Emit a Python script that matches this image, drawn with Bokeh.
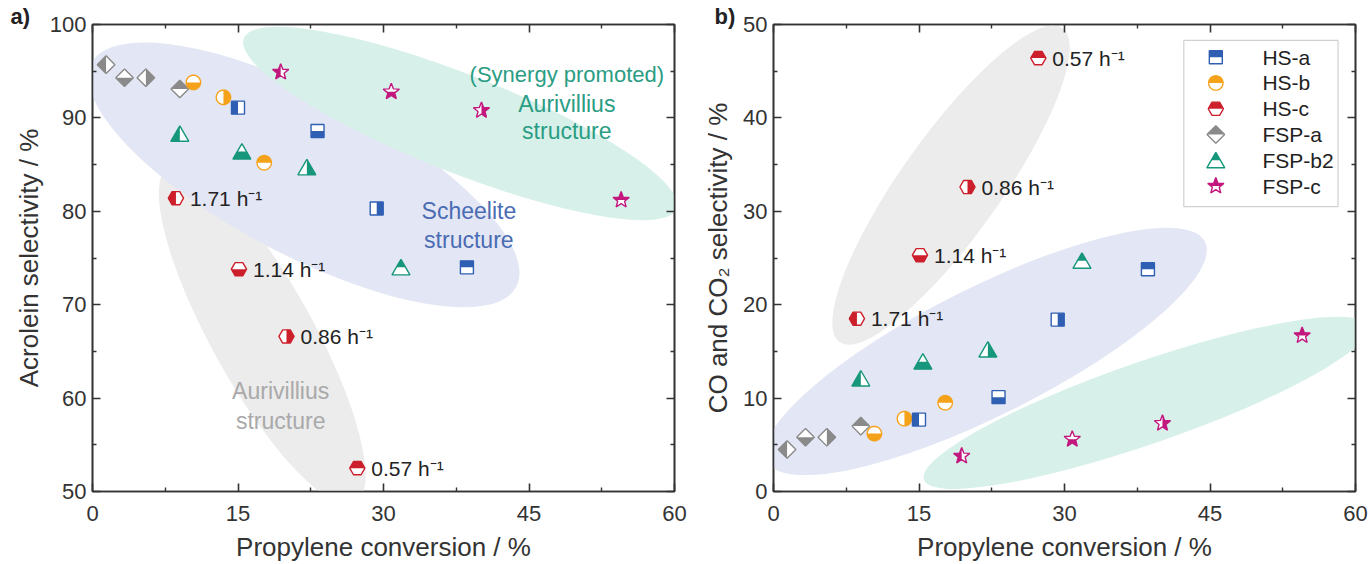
import math
from bokeh.plotting import figure
from bokeh.layouts import row
from bokeh.models import (Range1d, LinearAxis, FixedTicker, Label, BoxAnnotation,
                          CustomJSTickFormatter)
from bokeh.embed import file_html
from bokeh.resources import INLINE
from bokeh.core.properties import value

# ---------------- data ----------------
x_ticks = [0, 15, 30, 45, 60]
x_minor = [7.5, 22.5, 37.5, 52.5]
ya_ticks = [50, 60, 70, 80, 90, 100]
ya_minor = [55, 65, 75, 85, 95]
yb_ticks = [0, 10, 20, 30, 40, 50]
yb_minor = [5, 15, 25, 35, 45]

series_names = ["HS-a", "HS-b", "HS-c", "FSP-a", "FSP-b2", "FSP-c"]

hs_a_x = [15.0, 23.2, 29.3, 38.6]
hs_a_acro = [91.1, 88.6, 80.3, 74.0]
hs_a_cox = [7.7, 10.1, 18.4, 23.8]

hs_b_x = [10.4, 13.5, 17.7]
hs_b_acro = [93.8, 92.2, 85.2]
hs_b_cox = [6.2, 7.8, 9.5]

hs_c_x = [8.6, 15.1, 20.0, 27.3]
hs_c_acro = [81.4, 73.8, 66.6, 52.5]
hs_c_cox = [18.5, 25.3, 32.6, 46.4]
hs_c_rates = ["1.71 h\u207b\u00b9", "1.14 h\u207b\u00b9", "0.86 h\u207b\u00b9", "0.57 h\u207b\u00b9"]

fsp_a_x = [1.4, 3.3, 5.5, 9.0]
fsp_a_acro = [95.7, 94.3, 94.3, 93.1]
fsp_a_cox = [4.5, 5.8, 5.8, 7.0]

fsp_b2_x = [9.0, 15.4, 22.1, 31.8]
fsp_b2_acro = [88.3, 86.4, 84.7, 74.0]
fsp_b2_cox = [12.1, 13.9, 15.2, 24.7]

fsp_c_x = [19.4, 30.8, 40.1, 54.5]
fsp_c_acro = [94.9, 92.8, 90.8, 81.2]
fsp_c_cox = [3.8, 5.6, 7.3, 16.7]

# ---------------- style ----------------
FW, FH = 582, 467
FONT = "Liberation Sans"
AX = "#333333"

colors = {"HS-a": "#2f5fb3", "HS-b": "#f5a21b", "HS-c": "#cc1f2b",
          "FSP-a": "#8a8a8a", "FSP-b2": "#16967a", "FSP-c": "#c2187e"}
kinds = {"HS-a": "square", "HS-b": "circle", "HS-c": "hex",
         "FSP-a": "diamond", "FSP-b2": "triangle", "FSP-c": "star"}
halves = {"HS-a": ["left", "bottom", "right", "top"],
          "HS-b": ["bottom", "right", "top"],
          "HS-c": ["left", "bottom", "right", "top"],
          "FSP-a": ["left", "bottom", "right", "top"],
          "FSP-b2": ["left", "bottom", "right", "top"],
          "FSP-c": ["left", "bottom", "right", "top"]}

data_a = {"HS-a": (hs_a_x, hs_a_acro), "HS-b": (hs_b_x, hs_b_acro), "HS-c": (hs_c_x, hs_c_acro),
          "FSP-a": (fsp_a_x, fsp_a_acro), "FSP-b2": (fsp_b2_x, fsp_b2_acro), "FSP-c": (fsp_c_x, fsp_c_acro)}
data_b = {"HS-a": (hs_a_x, hs_a_cox), "HS-b": (hs_b_x, hs_b_cox), "HS-c": (hs_c_x, hs_c_cox),
          "FSP-a": (fsp_a_x, fsp_a_cox), "FSP-b2": (fsp_b2_x, fsp_b2_cox), "FSP-c": (fsp_c_x, fsp_c_cox)}
draw_order = ["FSP-a", "FSP-b2", "FSP-c", "HS-b", "HS-a", "HS-c"]


def base_shape(kind):
    if kind == "square":
        h = 6.5
        return [(-h, -h), (h, -h), (h, h), (-h, h)]
    if kind == "circle":
        r = 7.2
        return [(r * math.cos(2 * math.pi * k / 40), r * math.sin(2 * math.pi * k / 40)) for k in range(40)]
    if kind == "hex":
        r = 7.6
        return [(r * math.cos(math.pi * k / 3), r * math.sin(math.pi * k / 3)) for k in range(6)]
    if kind == "diamond":
        d = 8.8
        return [(0, d), (d, 0), (0, -d), (-d, 0)]
    if kind == "triangle":
        return [(0, 8.0), (-9.0, -7.5), (9.0, -7.5)]
    if kind == "star":
        pts = []
        for k in range(10):
            r = 8.5 if k % 2 == 0 else 3.6
            a = math.pi / 2 + math.pi * k / 5
            pts.append((r * math.cos(a), r * math.sin(a)))
        return pts


def _intersect(p, q, axis):
    t = p[axis] / (p[axis] - q[axis])
    return (p[0] + t * (q[0] - p[0]), p[1] + t * (q[1] - p[1]))


def clip_half(poly, side):
    axis = 0 if side in ("left", "right") else 1
    sign = -1 if side in ("left", "bottom") else 1

    def inside(p):
        return sign * p[axis] >= -1e-9
    out = []
    n = len(poly)
    for i in range(n):
        cur, prev = poly[i], poly[i - 1]
        ci, pi_ = inside(cur), inside(prev)
        if ci:
            if not pi_:
                out.append(_intersect(prev, cur, axis))
            out.append(cur)
        elif pi_:
            out.append(_intersect(prev, cur, axis))
    return out


def marker_layers(xs, ys, kind, sides, sx, sy):
    base = base_shape(kind)
    fx, fy, hx, hy = [], [], [], []
    for x, y, side in zip(xs, ys, sides):
        fx.append([x + dx * sx for dx, dy in base])
        fy.append([y + dy * sy for dx, dy in base])
        h = clip_half(base, side)
        hx.append([x + dx * sx for dx, dy in h])
        hy.append([y + dy * sy for dx, dy in h])
    return fx, fy, hx, hy


def draw_markers(p, xs, ys, name, sides, sx, sy):
    fx, fy, hx, hy = marker_layers(xs, ys, kinds[name], sides, sx, sy)
    c = colors[name]
    p.patches(xs=fx, ys=fy, fill_color="white", line_color=None)
    p.patches(xs=hx, ys=hy, fill_color=c, line_color=None)
    p.patches(xs=fx, ys=fy, fill_alpha=0, line_color=c, line_width=1.4)


def style_axis(ax, ticks, minor, labels):
    ax.ticker = FixedTicker(ticks=ticks, minor_ticks=minor)
    ax.axis_line_color = AX
    ax.axis_line_width = 1.6
    ax.major_tick_line_color = AX
    ax.major_tick_line_width = 1.6
    ax.minor_tick_line_color = AX
    ax.minor_tick_line_width = 1.4
    ax.major_tick_in = 8
    ax.major_tick_out = 0
    ax.minor_tick_in = 4
    ax.minor_tick_out = 0
    if labels:
        ax.major_label_text_font = FONT
        ax.major_label_text_font_size = "22px"
        ax.major_label_text_color = AX
        ax.major_label_standoff = 6
        ax.axis_label_text_font = FONT
        ax.axis_label_text_font_size = "26px"
        ax.axis_label_text_font_style = "normal"
        ax.axis_label_text_color = AX
        ax.axis_label_standoff = 8
    else:
        ax.formatter = CustomJSTickFormatter(code="return ''")
        ax.major_label_text_font_size = "1px"
        ax.major_label_standoff = 0


def make_fig(y0, y1, yt, ym, ylabel, bl, br, ystand, tag, tag_offset):
    p = figure(frame_width=FW, frame_height=FH,
               x_range=Range1d(0, 60), y_range=Range1d(y0, y1),
               output_backend="svg", toolbar_location=None,
               min_border_left=bl, min_border_right=br,
               min_border_top=24, min_border_bottom=72,
               title=tag, title_location="above",
               x_axis_label="Propylene conversion / %", y_axis_label=ylabel)
    p.title.text_font = FONT
    p.title.text_font_size = "22px"
    p.title.text_font_style = "bold"
    p.title.text_color = "#222222"
    p.title.align = "left"
    p.title.offset = tag_offset
    p.title.standoff = -8
    p.grid.visible = False
    p.outline_line_color = AX
    p.outline_line_width = 1.6
    p.background_fill_color = "white"
    p.border_fill_color = "white"
    style_axis(p.xaxis[0], x_ticks, x_minor, True)
    p.xaxis[0].major_label_standoff = 14
    p.xaxis[0].axis_label_standoff = 8
    style_axis(p.yaxis[0], yt, ym, True)
    p.yaxis[0].axis_label_standoff = ystand
    top = LinearAxis()
    style_axis(top, x_ticks, x_minor, False)
    p.add_layout(top, "above")
    right = LinearAxis()
    style_axis(right, yt, ym, False)
    p.add_layout(right, "right")
    return p


def add_label(p, x, y, text, color, size, align="center"):
    p.add_layout(Label(x=x, y=y, text=text, text_color=color, text_font=FONT,
                       text_font_size=size, text_align=align, text_baseline="middle"))


# ---------------- panel a ----------------
pa = make_fig(50, 100, ya_ticks, ya_minor, "Acrolein selectivity / %", 92, 26, 3, "a)", -82)
sxa, sya = 60.0 / FW, 50.0 / FH

pa.ellipse(x=[17.5], y=[66.8], width=[385], height=[102], angle=[math.radians(-61)],
           width_units="screen", height_units="screen", fill_color="#ececec", line_color=None)
pa.ellipse(x=[21.8], y=[83.9], width=[480], height=[160], angle=[math.radians(-27.8)],
           width_units="screen", height_units="screen", fill_color="#e3e6f4", line_color=None)
pa.ellipse(x=[37.9], y=[89.4], width=[465], height=[98], angle=[math.radians(-21.5)],
           width_units="screen", height_units="screen", fill_color="#d7f1ea", line_color=None)

add_label(pa, 38.8, 80.0, "Scheelite", "#4a6cb3", "23px")
add_label(pa, 38.8, 76.9, "structure", "#4a6cb3", "23px")
add_label(pa, 48.9, 94.6, "(Synergy promoted)", "#2a9d84", "22px")
add_label(pa, 48.9, 91.5, "Aurivillius", "#2a9d84", "23px")
add_label(pa, 48.9, 88.6, "structure", "#2a9d84", "23px")
add_label(pa, 19.4, 60.8, "Aurivillius", "#a9a9a9", "23px")
add_label(pa, 19.4, 57.6, "structure", "#a9a9a9", "23px")

for name in draw_order:
    xs, ys = data_a[name]
    draw_markers(pa, xs, ys, name, halves[name], sxa, sya)

pa.text(x=hs_c_x, y=hs_c_acro, text=hs_c_rates, x_offset=14, text_baseline="middle",
        text_align="left", text_font=value(FONT), text_font_size="21px", text_color="#222222")

# ---------------- panel b ----------------
pb = make_fig(0, 50, yb_ticks, yb_minor, "CO and CO\u2082 selectivity / %", 72, 14, 7, "b)", -59)
sxb, syb = 60.0 / FW, 50.0 / FH

pb.ellipse(x=[18.3], y=[32.8], width=[385], height=[100], angle=[math.radians(54.6)],
           width_units="screen", height_units="screen", fill_color="#ececec", line_color=None)
pb.ellipse(x=[21.9], y=[15.0], width=[490], height=[128], angle=[math.radians(26.6)],
           width_units="screen", height_units="screen", fill_color="#e3e6f4", line_color=None)
pb.ellipse(x=[38.4], y=[9.5], width=[470], height=[82], angle=[math.radians(19.1)],
           width_units="screen", height_units="screen", fill_color="#d7f1ea", line_color=None)

for name in draw_order:
    xs, ys = data_b[name]
    draw_markers(pb, xs, ys, name, halves[name], sxb, syb)

pb.text(x=hs_c_x, y=hs_c_cox, text=hs_c_rates, x_offset=14, text_baseline="middle",
        text_align="left", text_font=value(FONT), text_font_size="21px", text_color="#222222")

# legend (drawn manually so the half-filled symbols match)
pb.add_layout(BoxAnnotation(left=42.3, right=58.2, top=48.3, bottom=30.5,
                            fill_color="white", fill_alpha=1.0,
                            line_color="#666666", line_width=1.2, level="underlay"))
leg_x, leg_tx, leg_y0, leg_step = 45.6, 50.4, 46.5, 2.76
for i, name in enumerate(series_names):
    ly = leg_y0 - i * leg_step
    draw_markers(pb, [leg_x], [ly], name, ["top"], sxb, syb)
    pb.add_layout(Label(x=leg_tx, y=ly, text=name, text_color="#222222", text_font=FONT,
                        text_font_size="21px", text_baseline="middle", text_align="left"))

layout = row(pa, pb)
open("out.html", "w").write(file_html(layout, INLINE))
